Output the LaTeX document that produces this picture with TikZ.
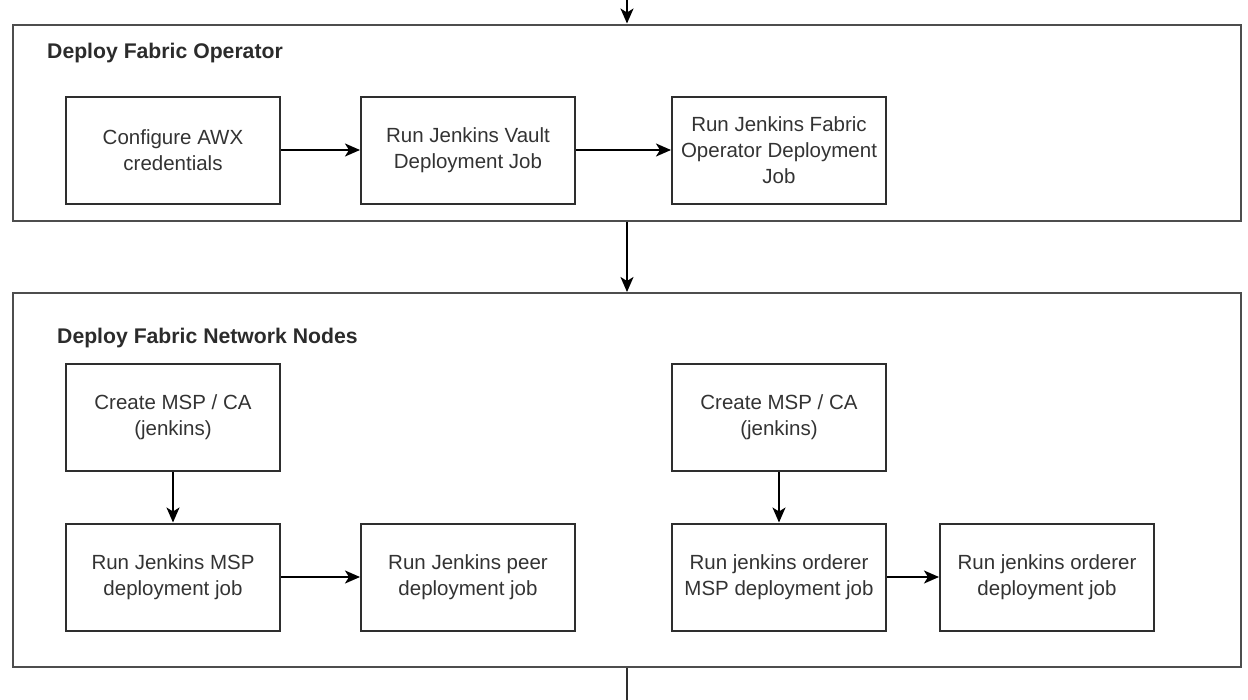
\documentclass[tikz,border=0pt]{standalone}
\usepackage{fontspec}
\setmainfont{Liberation Sans}
\usetikzlibrary{arrows.meta}
\definecolor{linec}{HTML}{2E2E2E}
\definecolor{textc}{HTML}{333333}
\tikzset{
  stepbox/.style={draw=linec, line width=2pt, minimum width=214pt, minimum height=107pt, inner sep=0pt, align=center, text=textc, font=\fontsize{20.5}{26}\selectfont},
  groupbox/.style={draw=linec!85, line width=2pt, inner sep=0pt},
  grouptitle/.style={anchor=base west, inner sep=0pt, text=textc!85!black, font=\fontsize{21.2}{24}\selectfont\bfseries},
  conn/.style={draw=black, line width=1.8pt, -{Stealth[length=15pt,width=13pt,inset=4pt]}},
  plainconn/.style={draw=linec, line width=2pt}
}
\begin{document}
\begin{tikzpicture}[x=1pt,y=-1pt]
\useasboundingbox (0,0) rectangle (1248,699);
% group boxes
\node[groupbox, minimum width=1228pt, minimum height=196pt] (op) at (627,122.5) {};
\node[groupbox, minimum width=1228pt, minimum height=374pt] (nw) at (627,480) {};
\node[grouptitle] (t1) at (47,58) {Deploy Fabric Operator};
\node[grouptitle] (t2) at (57,343) {Deploy Fabric Network Nodes};
% row 1
\node[stepbox] (a) at (173,150) {Configure AWX\\credentials};
\node[stepbox] (b) at (468,150) {Run Jenkins Vault\\Deployment Job};
\node[stepbox] (c) at (779,150) {Run Jenkins Fabric\\Operator Deployment\\Job};
% network nodes
\node[stepbox] (d) at (173,417) {Create MSP / CA\\(jenkins)};
\node[stepbox] (e) at (173,577) {Run Jenkins MSP\\deployment job};
\node[stepbox] (f) at (468,577) {Run Jenkins peer\\deployment job};
\node[stepbox] (g) at (779,417) {Create MSP / CA\\(jenkins)};
\node[stepbox] (h) at (779,577) {Run jenkins orderer\\MSP deployment job};
\node[stepbox] (i) at (1047,577) {Run jenkins orderer\\deployment job};
% connectors
\coordinate (topin) at (627,-2);
\coordinate (botout) at (627,702);
\draw[conn] (topin) -- (op.north);
\draw[conn] (op.south) -- (nw.north);
\draw[plainconn] (nw.south) -- (botout);
\draw[conn] (a) -- (b);
\draw[conn] (b) -- (c);
\draw[conn] (d) -- (e);
\draw[conn] (e) -- (f);
\draw[conn] (g) -- (h);
\draw[conn] (h) -- (i);
\end{tikzpicture}
\end{document}
